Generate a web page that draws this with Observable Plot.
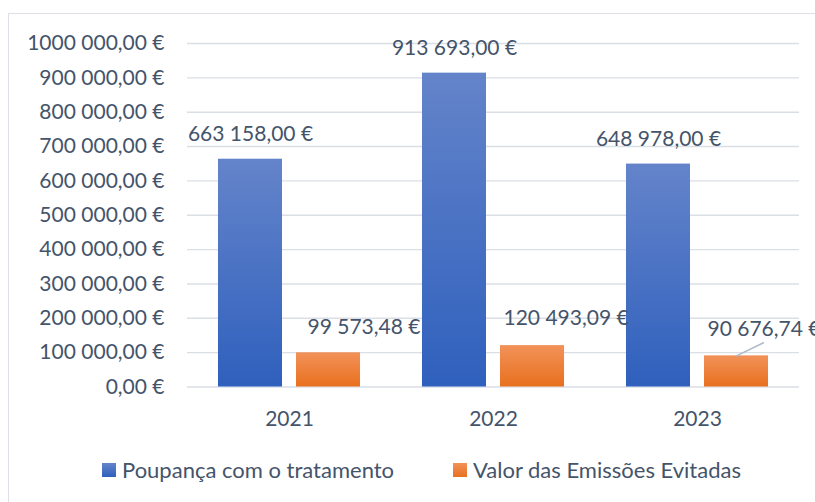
<!DOCTYPE html>
<html>
<head>
<meta charset="utf-8">
<script src="https://cdn.jsdelivr.net/npm/d3@7"></script>
<script src="https://cdn.jsdelivr.net/npm/@observablehq/plot@0.6"></script>
<style>
  html, body { margin: 0; padding: 0; width: 815px; height: 502px; overflow: hidden; background: #fff; font-family: Lato, "Open Sans", sans-serif; }
  #frame { position: absolute; left: 8px; top: 13px; width: 900px; height: 600px; border: 1.5px solid #dde1e7; box-sizing: border-box; }
  #chart { position: absolute; left: 0; top: 0; }
  .leg { position: absolute; top: 458px; height: 24px; line-height: 24px; font-size: 22px; color: #44546a; display: flex; align-items: center; white-space: nowrap; }
  .sw { width: 14px; height: 14px; margin-right: 6px; }
</style>
</head>
<body>
<div id="frame"></div>
<div id="chart"></div>
<div class="leg" id="leg1" style="left:102px"><span class="sw" style="background:linear-gradient(#6484ca,#2f60bd)"></span><span id="legt1"></span></div>
<div class="leg" id="leg2" style="left:453px"><span class="sw" style="background:linear-gradient(#f29259,#e8701e)"></span><span id="legt2"></span></div>
<script>
const years = ["2021", "2022", "2023"];
const seriesNames = ["Poupança com o tratamento", "Valor das Emissões Evitadas"];
const poupanca = [663158.00, 913693.00, 648978.00];
const emissoes = [99573.48, 120493.09, 90676.74];
const yTicks = [0, 100000, 200000, 300000, 400000, 500000, 600000, 700000, 800000, 900000, 1000000];
const yTickLabels = ["0,00 €", "100 000,00 €", "200 000,00 €", "300 000,00 €", "400 000,00 €", "500 000,00 €",
  "600 000,00 €", "700 000,00 €", "800 000,00 €", "900 000,00 €", "1000 000,00 €"];

const loc = d3.formatLocale({decimal: ",", thousands: " ", grouping: [3], currency: ["", " €"]});
const fmt = loc.format("$,.2f");

const blueData = years.map((y, i) => ({year: y, series: seriesNames[0], value: poupanca[i]}));
const orangeData = years.map((y, i) => ({year: y, series: seriesNames[1], value: emissoes[i]}));

document.getElementById("legt1").textContent = seriesNames[0];
document.getElementById("legt2").textContent = seriesNames[1];

const textColor = "#44546a";
const fs = 21;
const lineShape = {draw(context, l) { context.moveTo(0, 0); context.lineTo(0, -l); }};

const plot = Plot.plot({
  width: 815,
  height: 440,
  marginTop: 43,
  marginBottom: 53.5,
  marginLeft: 187,
  marginRight: 16,
  style: {fontFamily: "Lato, 'Open Sans', sans-serif", fontSize: fs + "px", color: textColor, background: "transparent"},
  fx: {domain: years, padding: 0, label: null, axis: null},
  x: {domain: seriesNames, paddingInner: 14 / 78, paddingOuter: 0.397, round: false, axis: null},
  y: {domain: [0, 1000000], axis: null},
  marks: [
    Plot.gridY(yTicks, {stroke: "#dadee5", strokeOpacity: 1, strokeWidth: 1.4}),
    Plot.axisY(yTicks, {tickSize: 0, tickPadding: 23, label: null, tickFormat: d => yTickLabels[yTicks.indexOf(d)], fill: textColor, fontSize: fs}),
    Plot.axisFx({anchor: "bottom", tickSize: 0, tickPadding: 24.5, fill: textColor, fontSize: fs, label: null}),
    Plot.barY(blueData, {fx: "year", x: "series", y: "value", fill: "url(#gBlue)"}),
    Plot.barY(orangeData, {fx: "year", x: "series", y: "value", fill: "url(#gOrange)"}),
    Plot.text(blueData, {fx: "year", x: "series", y: "value", text: d => fmt(d.value), dy: -25, fill: textColor, fontSize: fs}),
    Plot.text(orangeData.filter(d => d.year === "2021"), {fx: "year", x: "series", y: "value", text: d => fmt(d.value), textAnchor: "start", dx: -21, dy: -26, fill: textColor, fontSize: fs}),
    Plot.text(orangeData.filter(d => d.year !== "2021"), {fx: "year", x: "series", y: "value", text: d => fmt(d.value), textAnchor: "start", dx: -29, dy: -27, fill: textColor, fontSize: fs}),
    Plot.vector(orangeData.filter(d => d.year === "2023"), {fx: "year", x: "series", y: "value", length: 30, rotate: 64, anchor: "start", shape: lineShape, stroke: "#aebacb", strokeWidth: 1.5})
  ]
});

plot.insertAdjacentHTML("afterbegin", `<defs>
<linearGradient id="gBlue" x1="0" y1="0" x2="0" y2="1"><stop offset="0" stop-color="#6484ca"/><stop offset="1" stop-color="#2f60bd"/></linearGradient>
<linearGradient id="gOrange" x1="0" y1="0" x2="0" y2="1"><stop offset="0" stop-color="#f29259"/><stop offset="1" stop-color="#e8701e"/></linearGradient>
</defs>`);
plot.style.overflow = "visible";
document.getElementById("chart").appendChild(plot);
</script>
</body>
</html>
